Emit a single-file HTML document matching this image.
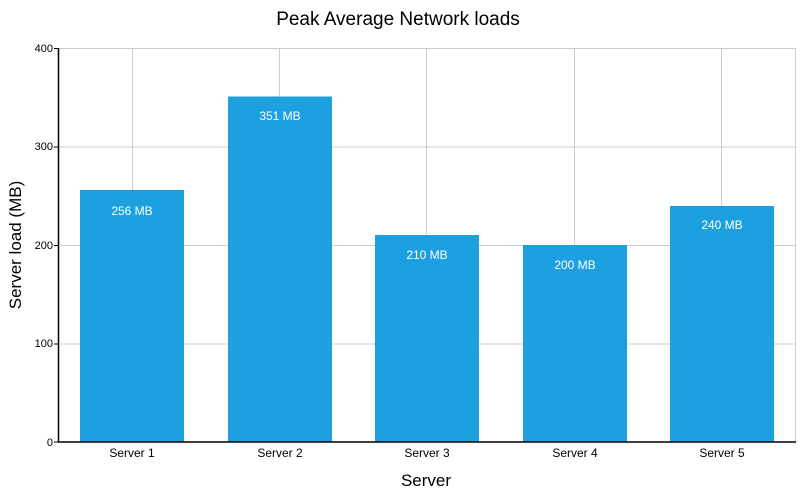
<!DOCTYPE html>
<html><head><style>body{margin:0;background:#fff}svg{display:block}text{font-family:"Liberation Sans",sans-serif}</style></head>
<body>
<svg width="804" height="498" viewBox="0 0 804 498" xmlns="http://www.w3.org/2000/svg">
<text x="398" y="25" font-size="19" text-anchor="middle" fill="#000">Peak Average Network loads</text>
<g stroke="#cccccc" stroke-width="1">
<line x1="59" y1="48.5" x2="795" y2="48.5"/>
<line x1="59" y1="147" x2="795" y2="147"/>
<line x1="59" y1="245.5" x2="795" y2="245.5"/>
<line x1="59" y1="344" x2="795" y2="344"/>
<line x1="132.5" y1="48" x2="132.5" y2="442"/>
<line x1="279.5" y1="48" x2="279.5" y2="442"/>
<line x1="426.5" y1="48" x2="426.5" y2="442"/>
<line x1="574.5" y1="48" x2="574.5" y2="442"/>
<line x1="721.5" y1="48" x2="721.5" y2="442"/>
<line x1="795.5" y1="48" x2="795.5" y2="442"/>
</g>
<g fill="#1ca0e0">
<rect x="80" y="190" width="104" height="252"/>
<rect x="228" y="96.5" width="104" height="345.5"/>
<rect x="375" y="235" width="104" height="207"/>
<rect x="523" y="245" width="104" height="197"/>
<rect x="670" y="206" width="104" height="236"/>
</g>
<g fill="#fff" font-size="12" text-anchor="middle">
<text x="132" y="215">256 MB</text>
<text x="280" y="120">351 MB</text>
<text x="427" y="259">210 MB</text>
<text x="575" y="269">200 MB</text>
<text x="722" y="229">240 MB</text>
</g>
<g stroke="#000" stroke-width="1.5">
<line x1="58.5" y1="48" x2="58.5" y2="442"/>
<line x1="58" y1="442" x2="796" y2="442"/>
</g>
<g stroke="#000" stroke-width="1">
<line x1="54" y1="48.5" x2="58" y2="48.5"/><line x1="54" y1="147" x2="58" y2="147"/>
<line x1="54" y1="245.5" x2="58" y2="245.5"/><line x1="54" y1="344" x2="58" y2="344"/>
<line x1="54" y1="442" x2="58" y2="442"/>
</g>
<g font-size="11" text-anchor="end" fill="#000">
<text x="53" y="52">400</text><text x="53" y="150">300</text>
<text x="53" y="249">200</text><text x="53" y="347">100</text><text x="53" y="446">0</text>
</g>
<g font-size="12" text-anchor="middle" fill="#000">
<text x="132" y="457">Server 1</text><text x="280" y="457">Server 2</text>
<text x="427" y="457">Server 3</text><text x="575" y="457">Server 4</text>
<text x="722" y="457">Server 5</text>
</g>
<text x="426" y="486" font-size="17" text-anchor="middle">Server</text>
<text transform="translate(21,245) rotate(-90)" font-size="17" text-anchor="middle">Server load (MB)</text>
</svg>
</body></html>
